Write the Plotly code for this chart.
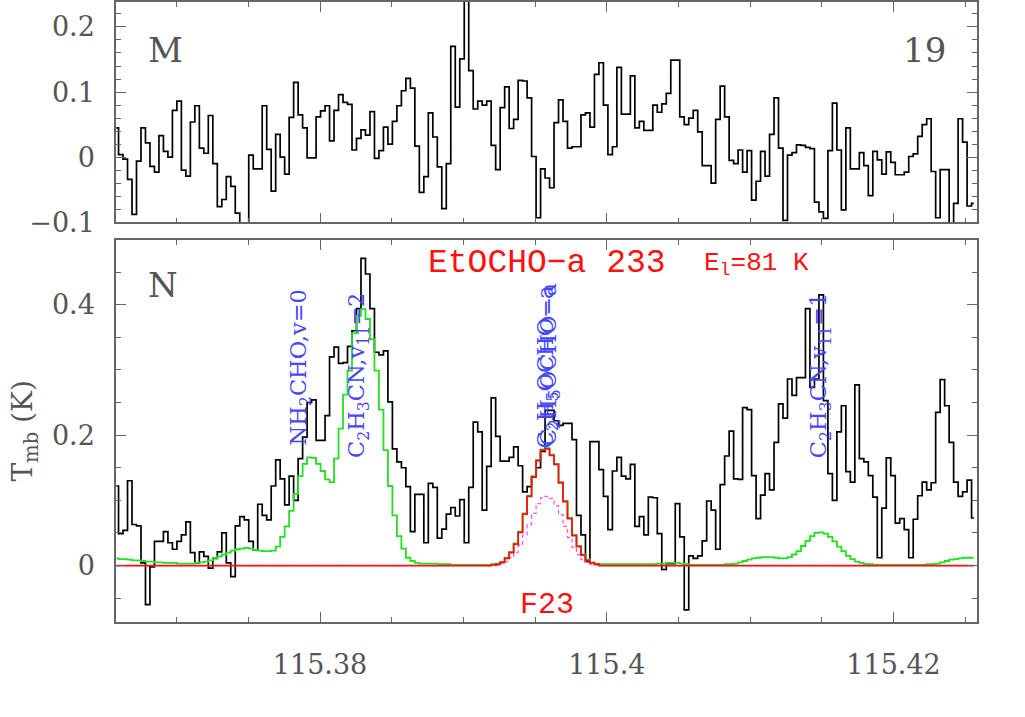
import numpy as np
import plotly.graph_objects as go

# spectral axis: channel grid (GHz)
F_START = 115.36579
CHAN_WIDTH = 0.00031313
N_CHAN = 192

# panel M (top) observed spectrum, K
spec_m = [
    0.045, 0.004, -0.003, -0.034, -0.088, -0.006, 0.045, 0.022, -0.014, -0.023,
    0.033, 0.009, 0.000, 0.072, 0.086, -0.020, -0.029, 0.054, 0.079, 0.014,
    0.006, 0.064, -0.010, -0.076, -0.065, -0.030, -0.045, -0.086, -0.115, -0.120,
    0.003, -0.018, -0.018, 0.079, 0.012, -0.052, 0.035, 0.000, -0.026, 0.061,
    0.115, 0.065, 0.045, -0.001, -0.001, 0.062, 0.071, 0.079, 0.025, 0.072,
    0.096, 0.084, 0.081, 0.011, 0.029, 0.042, 0.034, 0.070, -0.002, 0.010,
    0.046, 0.020, 0.055, 0.079, 0.102, 0.121, 0.106, 0.017, -0.054, -0.030,
    0.068, 0.031, -0.015, -0.079, -0.010, 0.170, 0.077, 0.151, 0.280, 0.133,
    0.074, 0.086, 0.080, 0.086, 0.018, -0.019, 0.076, 0.108, 0.044, 0.058,
    0.118, 0.117, 0.091, 0.001, -0.093, -0.018, -0.032, -0.047, 0.053, 0.088,
    0.055, 0.014, 0.016, 0.016, 0.065, 0.068, 0.046, 0.127, 0.145, 0.080,
    0.004, 0.016, 0.138, 0.066, 0.066, 0.125, 0.045, 0.055, 0.041, 0.041,
    0.080, 0.069, 0.082, 0.098, 0.149, 0.149, 0.062, 0.050, 0.060, 0.072,
    0.039, -0.013, -0.013, -0.040, 0.058, 0.109, 0.062, -0.005, -0.010, 0.011,
    -0.023, 0.010, -0.066, -0.037, 0.009, -0.029, 0.035, 0.091, 0.014, -0.097,
    0.003, 0.007, 0.019, 0.018, 0.015, 0.013, -0.069, -0.084, -0.094, 0.010,
    0.083, 0.011, -0.081, 0.045, -0.018, -0.018, 0.007, -0.013, -0.059, 0.009,
    -0.004, -0.026, 0.008, -0.008, -0.027, -0.027, -0.023, 0.001, 0.005, 0.032,
    0.050, 0.059, -0.022, -0.093, -0.019, -0.019, -0.115, -0.071, 0.059, 0.023,
    -0.075, -0.071,
]

# panel N (bottom) observed spectrum, K
spec_n = [
    0.122, 0.049, 0.054, 0.130, 0.063, 0.061, 0.004, -0.060, -0.002, 0.037,
    0.037, 0.052, 0.035, 0.025, 0.037, 0.047, 0.067, 0.020, 0.004, 0.021,
    0.014, -0.004, 0.011, 0.021, 0.050, 0.004, -0.017, 0.061, 0.075, 0.070,
    0.037, 0.024, 0.094, 0.077, 0.070, 0.122, 0.162, 0.133, 0.093, 0.137,
    0.100, 0.164, 0.197, 0.250, 0.254, 0.192, 0.192, 0.230, 0.320, 0.335,
    0.310, 0.311, 0.336, 0.360, 0.394, 0.471, 0.447, 0.394, 0.327, 0.323,
    0.329, 0.251, 0.179, 0.159, 0.150, 0.121, 0.052, 0.109, 0.109, 0.035,
    0.126, 0.120, 0.042, 0.056, 0.079, 0.089, 0.076, 0.101, 0.035, 0.120,
    0.220, 0.205, 0.085, 0.152, 0.257, 0.198, 0.160, 0.160, 0.166, 0.182,
    0.153, 0.113, 0.121, 0.136, 0.150, 0.175, 0.238, 0.238, 0.222, 0.215,
    0.218, 0.218, 0.193, 0.077, 0.047, 0.006, 0.190, 0.190, 0.147, 0.106,
    0.055, 0.145, 0.166, 0.137, 0.133, 0.155, 0.060, 0.075, 0.047, 0.105,
    0.104, 0.049, -0.006, 0.003, 0.003, 0.095, 0.044, -0.068, 0.015, 0.011,
    0.015, 0.038, 0.099, 0.085, 0.025, 0.124, 0.168, 0.206, 0.133, 0.132,
    0.242, 0.239, 0.138, 0.072, 0.108, 0.141, 0.116, 0.189, 0.248, 0.226,
    0.286, 0.261, 0.288, 0.288, 0.394, 0.273, 0.286, 0.415, 0.253, 0.141,
    0.100, 0.205, 0.245, 0.144, 0.128, 0.277, 0.164, 0.159, 0.138, 0.105,
    0.012, 0.088, 0.165, 0.138, 0.065, 0.072, 0.055, 0.012, 0.071, 0.107,
    0.128, 0.116, 0.127, 0.235, 0.285, 0.245, 0.189, 0.128, 0.106, 0.113,
    0.131, 0.073,
]

# full model, all species (green)
model_all = [
    0.011, 0.010, 0.010, 0.009, 0.008, 0.008, 0.007, 0.006, 0.006, 0.005,
    0.005, 0.004, 0.004, 0.004, 0.003, 0.003, 0.003, 0.003, 0.004, 0.005,
    0.006, 0.008, 0.011, 0.014, 0.017, 0.020, 0.023, 0.025, 0.026, 0.027,
    0.026, 0.024, 0.023, 0.022, 0.022, 0.023, 0.029, 0.044, 0.060, 0.084,
    0.110, 0.137, 0.156, 0.166, 0.165, 0.156, 0.145, 0.132, 0.128, 0.164,
    0.210, 0.262, 0.299, 0.356, 0.383, 0.393, 0.378, 0.347, 0.299, 0.239,
    0.177, 0.122, 0.077, 0.045, 0.026, 0.012, 0.007, 0.004, 0.003, 0.003,
    0.003, 0.003, 0.002, 0.002, 0.002, 0.001, 0.001, 0.001, 0.001, 0.001,
    0.001, 0.001, 0.001, 0.001, 0.002, 0.003, 0.006, 0.012, 0.021, 0.034,
    0.052, 0.080, 0.107, 0.137, 0.162, 0.178, 0.180, 0.170, 0.156, 0.128,
    0.099, 0.073, 0.047, 0.030, 0.017, 0.009, 0.005, 0.003, 0.002, 0.002,
    0.002, 0.002, 0.002, 0.002, 0.002, 0.002, 0.002, 0.002, 0.002, 0.002,
    0.002, 0.003, 0.003, 0.004, 0.004, 0.004, 0.003, 0.002, 0.001, 0.001,
    0.001, 0.001, 0.001, 0.001, 0.001, 0.001, 0.002, 0.002, 0.003, 0.005,
    0.007, 0.009, 0.011, 0.012, 0.013, 0.013, 0.013, 0.012, 0.011, 0.011,
    0.013, 0.017, 0.022, 0.030, 0.038, 0.045, 0.050, 0.051, 0.049, 0.044,
    0.037, 0.029, 0.022, 0.015, 0.010, 0.006, 0.004, 0.002, 0.002, 0.001,
    0.001, 0.001, 0.001, 0.001, 0.001, 0.001, 0.001, 0.001, 0.001, 0.001,
    0.001, 0.002, 0.002, 0.003, 0.005, 0.007, 0.009, 0.010, 0.011, 0.012,
    0.012, 0.012,
]

# EtOCHO-a model (red) and its dashed companion (magenta)
model_etocho = (
    [0.0] * 84
    + [0.001, 0.002, 0.005, 0.011, 0.020, 0.033, 0.051, 0.079, 0.106, 0.136,
       0.161, 0.177, 0.179, 0.169, 0.155, 0.127, 0.098, 0.072, 0.046, 0.029,
       0.016, 0.008, 0.004, 0.002]
    + [0.0] * 84
)
model_dashed = (
    [0.0] * 86
    + [0.003, 0.006, 0.012, 0.020, 0.031, 0.047, 0.063, 0.080, 0.095, 0.104,
       0.106, 0.103, 0.092, 0.078, 0.060, 0.043, 0.028, 0.017, 0.009, 0.005,
       0.002, 0.001]
    + [0.0] * 84
)

# line identifications (GHz, label)
line_freqs = [115.37860, 115.38265, 115.39582, 115.39600, 115.41488]
line_labels = [
    "NH<sub>2</sub>CHO,v=0",
    "C<sub>2</sub>H<sub>3</sub>CN,v<sub>11</sub>=2",
    "C<sub>2</sub>H<sub>5</sub>OCHO\u2212a",
    "C<sub>2</sub>H<sub>5</sub>OCHO\u2212a",
    "C<sub>2</sub>H<sub>3</sub>CN,v<sub>11</sub>=1",
]
line_label_y = [0.181, 0.161, 0.177, 0.180, 0.161]

x_tickvals = [115.38, 115.40, 115.42]
x_ticktext = ["115.38", "115.4", "115.42"]
ym_tickvals = [-0.1, 0, 0.1, 0.2]
ym_ticktext = ["\u22120.1", "0", "0.1", "0.2"]
yn_tickvals = [0, 0.2, 0.4]
yn_ticktext = ["0", "0.2", "0.4"]

freq = F_START + CHAN_WIDTH * np.arange(N_CHAN)

GRAY = "#666"
TXT = "#555"
SERIF = "DejaVu Serif"

fig = go.Figure()
fig.add_trace(go.Scatter(x=freq, y=spec_m, mode="lines", line_shape="hvh",
                         line=dict(color="black", width=1.7), xaxis="x", yaxis="y"))
fig.add_trace(go.Scatter(x=freq, y=spec_n, mode="lines", line_shape="hvh",
                         line=dict(color="black", width=1.7), xaxis="x2", yaxis="y2"))
fig.add_trace(go.Scatter(x=freq, y=model_all, mode="lines", line_shape="hvh",
                         line=dict(color="#22e022", width=1.8), xaxis="x2", yaxis="y2"))
fig.add_trace(go.Scatter(x=freq, y=model_dashed, mode="lines", line_shape="hvh",
                         line=dict(color="#ff55ff", width=1.3, dash="4px,3px"),
                         xaxis="x2", yaxis="y2"))
fig.add_trace(go.Scatter(x=freq, y=model_etocho, mode="lines", line_shape="hvh",
                         line=dict(color="#ff1010", width=1.8), xaxis="x2", yaxis="y2"))


def axis_style(**kw):
    d = dict(
        showline=True, linecolor=GRAY, linewidth=1.5, mirror="ticks",
        ticks="inside", ticklen=10, tickwidth=1.3, tickcolor=GRAY,
        showgrid=False, zeroline=False,
        tickfont=dict(family=SERIF, size=27, color=TXT),
    )
    d.update(kw)
    return d


x_range = [115.36577, 115.42582]
minor_x = dict(ticks="inside", ticklen=5, tickcolor=GRAY, tickmode="linear",
               tick0=115.38, dtick=0.005, showgrid=False)

fig.update_layout(
    width=1025, height=717,
    margin=dict(l=116, r=48, t=0, b=95),
    paper_bgcolor="white", plot_bgcolor="white",
    showlegend=False,
    xaxis=axis_style(domain=[0, 1], range=x_range, anchor="y",
                     tickmode="array", tickvals=x_tickvals, ticktext=x_ticktext,
                     showticklabels=False, minor=minor_x),
    yaxis=axis_style(domain=[0.6447, 1], range=[-0.1, 0.2383], anchor="x",
                     tickmode="array", tickvals=ym_tickvals, ticktext=ym_ticktext,
                     ticklabelstandoff=14,
                     minor=dict(ticks="inside", ticklen=5, tickcolor=GRAY,
                                tickmode="linear", tick0=0, dtick=0.02, showgrid=False)),
    xaxis2=axis_style(domain=[0, 1], range=x_range, anchor="y2", matches="x",
                      tickmode="array", tickvals=x_tickvals, ticktext=x_ticktext,
                      ticklabelstandoff=18, minor=minor_x),
    yaxis2=axis_style(domain=[0, 0.6158], range=[-0.0865, 0.4988], anchor="x2",
                      tickmode="array", tickvals=yn_tickvals, ticktext=yn_ticktext,
                      ticklabelstandoff=14,
                      minor=dict(ticks="inside", ticklen=5, tickcolor=GRAY,
                                 tickmode="linear", tick0=0, dtick=0.05, showgrid=False)),
)

# line identification labels
for f, lab, yl in zip(line_freqs, line_labels, line_label_y):
    fig.add_annotation(x=f, y=yl, xref="x2", yref="y2", text=lab, textangle=-90,
                       showarrow=False, xanchor="center", yanchor="bottom",
                       font=dict(family=SERIF, size=22.5, color="#4646ff"))

# panel letters / numbers
fig.add_annotation(x=0.0348, y=0.9228, xref="paper", yref="paper", text="M",
                   showarrow=False, xanchor="left", yanchor="middle",
                   font=dict(family=SERIF, size=34, color=TXT))
fig.add_annotation(x=0.9663, y=0.9228, xref="paper", yref="paper", text="19",
                   showarrow=False, xanchor="right", yanchor="middle",
                   font=dict(family=SERIF, size=34, color=TXT))
fig.add_annotation(x=0.0348, y=0.5434, xref="paper", yref="paper", text="N",
                   showarrow=False, xanchor="left", yanchor="middle",
                   font=dict(family=SERIF, size=34, color=TXT))

# species / transition info
fig.add_annotation(x=0.5, y=0.5788, xref="paper", yref="paper",
                   text="EtOCHO\u2212a 233", showarrow=False,
                   xanchor="center", yanchor="middle",
                   font=dict(family="Liberation Mono", size=33, color="#ff1010"))
fig.add_annotation(x=0.6806, y=0.5770, xref="paper", yref="paper",
                   text="E<sub>l</sub>=81 K", showarrow=False,
                   xanchor="left", yanchor="middle",
                   font=dict(family="Liberation Mono", size=26, color="#ff1010"))
fig.add_annotation(x=0.5, y=0.0273, xref="paper", yref="paper", text="F23",
                   showarrow=False, xanchor="center", yanchor="middle",
                   font=dict(family="Liberation Mono", size=30, color="#ff1010"))

# y-axis title
fig.add_annotation(x=-0.1057, y=0.3087, xref="paper", yref="paper",
                   text="T<sub>mb</sub> (K)", textangle=-90, showarrow=False,
                   xanchor="center", yanchor="middle",
                   font=dict(family=SERIF, size=28, color=TXT))

# drop the default page margin so the figure sits at the window origin
fig.write_html("out.html", config={"displayModeBar": False},
               post_script="document.body.style.margin='0';")
